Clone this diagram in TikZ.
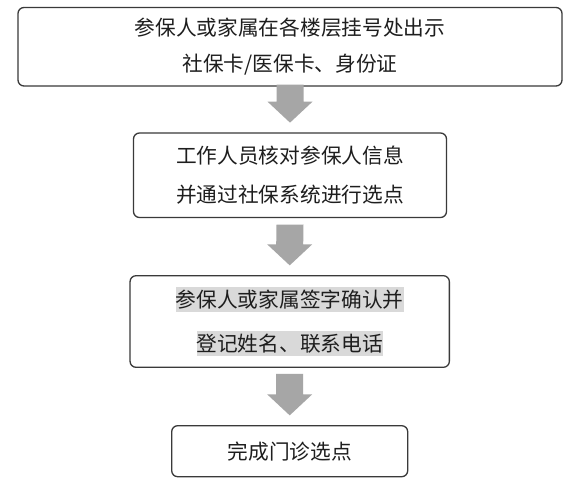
\documentclass[tikz,border=0pt]{standalone}
\usepackage{fontspec}
\setmainfont{Noto Sans CJK SC}
\usetikzlibrary{calc}
\definecolor{boxline}{HTML}{3A3A3A}
\definecolor{arrowgray}{HTML}{A6A6A6}
\definecolor{hlgray}{HTML}{D9D9D9}
\definecolor{txt}{HTML}{1E1E1E}
\newcommand\hlline[1]{{\setlength\fboxsep{0pt}\colorbox{hlgray}{\rule[-4.6pt]{0pt}{25pt}#1}}}
\newcommand\garrow[3]{%
  \fill[arrowgray] ($(#1.south)+(-13.5,#3)$) -- ($(#2.north)+(-13.5,-30.7)$)
    -- ($(#2.north)+(-22.5,-30.7)$) -- ($(#2.north)+(0,-9.7)$)
    -- ($(#2.north)+(22.5,-30.7)$) -- ($(#2.north)+(13.5,-30.7)$)
    -- ($(#1.south)+(13.5,#3)$) -- cycle;}
\tikzset{
  stepbox/.style={draw=boxline, line width=1.3pt, rounded corners=6pt,
    align=center, inner sep=0pt, text=txt, fill=white},
}
\begin{document}
\begin{tikzpicture}[x=1pt,y=-1pt]
\useasboundingbox[fill=white] (0,0) rectangle (586,487);
\node[stepbox, minimum width=544pt, minimum height=78.5pt,
  font=\fontsize{20.7}{35.5}\selectfont] (b1) at (290,46.75)
  {参保人或家属在各楼层挂号处出示\\社保卡/医保卡、身份证};
\node[stepbox, minimum width=313pt, minimum height=84.5pt,
  font=\fontsize{20.7}{39.5}\selectfont] (b2) at (290,175.25)
  {工作人员核对参保人信息\\并通过社保系统进行选点};
\node[stepbox, minimum width=319.3pt, minimum height=91.6pt,
  font=\fontsize{20.7}{44}\selectfont] (b3) at (289.7,321.5)
  {\hlline{参保人或家属签字确认并}\\\hlline{登记姓名、联系电话}};
\node[stepbox, minimum width=236pt, minimum height=51pt,
  font=\fontsize{20.7}{25}\selectfont] (b4) at (289.7,451.2)
  {完成门诊选点};
\garrow{b1}{b2}{-2}
\garrow{b2}{b3}{6.5}
\garrow{b3}{b4}{6}
\end{tikzpicture}
\end{document}
